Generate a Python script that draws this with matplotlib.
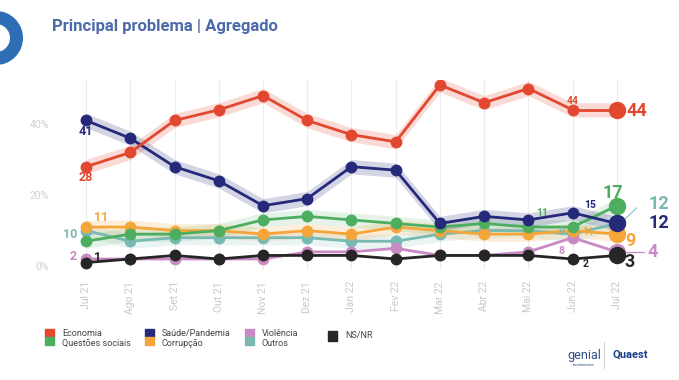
import numpy as np
import matplotlib.pyplot as plt
from matplotlib.patches import Rectangle, Wedge

plt.rcParams['font.family'] = ['Roboto', 'DejaVu Sans']

# ------------------------------------------
# Données
# ------------------------------------------
months = ["Jul 21", "Ago 21", "Set 21", "Out 21", "Nov 21", "Dez 21", "Jan 22",
          "Fev 22", "Mar 22", "Abr 22", "Mai 22", "Jun 22", "Jul 22"]
economia = [28, 32, 41, 44, 48, 41, 37, 35, 51, 46, 50, 44, 44]
saude = [41, 36, 28, 24, 17, 19, 28, 27, 12, 14, 13, 15, 12]
questoes = [7, 9, 9, 10, 13, 14, 13, 12, 11, 12, 11, 11, 17]
corrupcao = [11, 11, 10, 10, 9, 10, 9, 11, 10, 9, 9, 10, 9]
outros = [10, 7, 8, 8, 8, 8, 7, 7, 9, 10, 10, 9, 12]
violencia = [2, 2, 2, 2, 2, 4, 4, 5, 3, 3, 4, 8, 4]
nsnr = [1, 2, 3, 2, 3, 3, 3, 2, 3, 3, 3, 2, 3]

C_ECO = "#e2472f"
C_SAU = "#26297a"
C_QUE = "#4cae5e"
C_COR = "#f5a638"
C_OUT = "#78b9b1"
C_VIO = "#c98ac3"
C_NS = "#262626"

series = [
    (outros, C_OUT, 0.15),
    (violencia, C_VIO, 0.0),
    (nsnr, C_NS, 0.0),
    (corrupcao, C_COR, 0.18),
    (questoes, C_QUE, 0.15),
    (saude, C_SAU, 0.2),
    (economia, C_ECO, 0.2),
]

fig = plt.figure(figsize=(6.79, 3.80), dpi=100)

# calque en pixels pour le décor (logo, légende)
deco = fig.add_axes([0, 0, 1, 1])
deco.set_xlim(0, 679)
deco.set_ylim(380, 0)
deco.axis('off')

ax = fig.add_axes([60 / 679, 1 - 270 / 380, 590 / 679, 190 / 380])
x = np.arange(len(months))

for vals, color, band in series:
    v = np.array(vals, dtype=float)
    if band > 0:
        ax.fill_between(x, v - 2, v + 2, color=color, alpha=band, lw=0, zorder=1)
    ax.plot(x[:-1], v[:-1], color=color, lw=2, marker='o', ms=7.5, zorder=3)
    ax.plot(x[-2:], v[-2:], color=color, lw=2, zorder=3)
    ax.plot(x[-1], v[-1], 'o', color=color, ms=11.5, zorder=4)

ax.set_xlim(-0.59, 12.75)
ax.set_ylim(-1.1, 52.4)
for s in ax.spines.values():
    s.set_visible(False)
ax.set_yticks([0, 20, 40])
ax.set_yticklabels(["0%", "20%", "40%"], color="#cfcfcf", fontsize=7.5)
ax.set_xticks(x)
ax.set_xticklabels(months, rotation=90, color="#c8c8c8", fontsize=7.5)
ax.tick_params(length=0, pad=8)
ax.tick_params(axis='y', pad=8)
for xi in x:
    ax.axvline(xi, color="#ececec", lw=0.8, zorder=0)

# étiquettes de valeurs
def lab(xv, yv, txt, color, size=9, ha='center', va='center'):
    ax.text(xv, yv, txt, color=color, fontsize=size, fontweight='bold', ha=ha, va=va, zorder=6)

lab(0, 38.0, "41", C_SAU)
lab(0, 25.0, "28", C_ECO)
lab(0.35, 13.6, "11", C_COR)
lab(-0.35, 8.8, "10", C_OUT, ha='center')
lab(-0.3, 2.8, "2", C_VIO)
lab(0.25, 2.3, "1", C_NS)
lab(11, 46.5, "44", C_ECO, size=7.5)
lab(11.4, 17.2, "15", C_SAU, size=7.5)
lab(10.3, 14.9, "11", C_QUE, size=7.5)
lab(10.75, 9.6, "9", C_OUT, size=7.5)
lab(11.35, 9.6, "11", C_COR, size=7.5)
lab(10.75, 4.2, "8", C_VIO, size=7.5)
lab(11.3, 0.6, "2", C_NS, size=7.5)

lab(12.45, 43.6, "44", C_ECO, size=13, ha='center')
lab(11.9, 20.5, "17", C_QUE, size=13)
lab(12.95, 17.5, "12", C_OUT, size=13)
lab(12.95, 12.2, "12", C_SAU, size=13)
lab(12.3, 7.2, "9", C_COR, size=13)
lab(12.8, 4.0, "4", C_VIO, size=13)
lab(12.3, 1.2, "3", C_NS, size=13)
ax.plot([12.15, 12.45], [12.8, 16.4], color=C_OUT, lw=0.7, zorder=2, clip_on=False)
ax.plot([12.2, 12.62], [4, 4], color=C_VIO, lw=0.9, zorder=2, clip_on=False)

# titre et logo
deco.text(52, 27, "Principal problema | Agregado", color="#4d6aa9",
          fontsize=12, fontweight='bold', va='center')
deco.add_patch(Wedge((-4, 38), 27, 0, 360, width=13, facecolor="#2f6db5", edgecolor='none'))

# légende
legend = [
    (45, "Economia", C_ECO, "Questões sociais", C_QUE),
    (145, "Saúde/Pandemia", C_SAU, "Corrupção", C_COR),
    (245, "Violência", C_VIO, "Outros", C_OUT),
    (328, "NS/NR", C_NS, None, None),
]
for px, t1, c1, t2, c2 in legend:
    if t2 is None:
        deco.add_patch(Rectangle((px, 331), 9, 10, color=c1))
        deco.text(px + 17, 335, t1, fontsize=6.5, color="#444444", va='center')
        continue
    deco.add_patch(Rectangle((px, 329), 9, 8, color=c1))
    deco.add_patch(Rectangle((px, 337), 9, 8, color=c2))
    deco.text(px + 17, 333, t1, fontsize=6.5, color="#444444", va='center')
    deco.text(px + 17, 343, t2, fontsize=6.5, color="#444444", va='center')

# logos
deco.text(584, 355, "genial", fontsize=9, color="#2d4f8a", ha='center', va='center')
deco.text(584, 365, "investimentos", fontsize=2.5, color="#2d4f8a", ha='center', va='center')
deco.plot([604, 604], [342, 368], color="#c8c8c8", lw=0.6)
deco.text(630, 355, "Quaest", fontsize=8, fontweight='bold', color="#1d3f8a",
          ha='center', va='center')

fig.savefig("out.png", dpi=100)
